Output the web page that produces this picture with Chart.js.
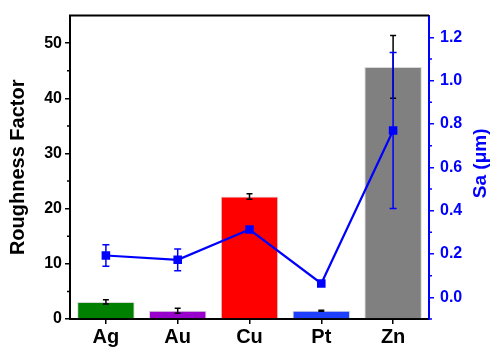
<!DOCTYPE html>
<html>
<head>
<meta charset="utf-8">
<script src="https://cdn.jsdelivr.net/npm/chart.js@4/dist/chart.umd.min.js"></script>
<style>
html,body{margin:0;padding:0;background:#fff;}
#wrap{width:491px;height:347px;}
</style>
</head>
<body>
<div id="wrap"><canvas id="c" width="491" height="347"></canvas></div>
<script>
const categories = ['Ag', 'Au', 'Cu', 'Pt', 'Zn'];
const roughness = [3.1, 1.5, 22.2, 1.5, 45.7];
const roughnessErr = [0.4, 0.45, 0.5, 0.1, 5.7];
const sa = [0.193, 0.173, 0.313, 0.064, 0.77];
const saErr = [0.05, 0.05, 0, 0, 0.36];
const barColors = ['#008000', '#9900cc', '#ff0000', '#1f3fff', '#808080'];
const leftTicks = [0, 10, 20, 30, 40, 50];
const leftMinor = [5, 15, 25, 35, 45];
const rightTicks = [0.0, 0.2, 0.4, 0.6, 0.8, 1.0, 1.2];
const rightMinor = [-0.1, 0.1, 0.3, 0.5, 0.7, 0.9, 1.1];
const rightTitle = 'Sa (\u03bcm)';

const FONT = "'Liberation Sans', Arial, sans-serif";

const extras = {
  id: 'extras',
  afterDatasetDraw(chart, args) {
    const ctx = chart.ctx;
    const meta = args.meta;
    const ds = chart.data.datasets[args.index];
    const errs = ds.errs;
    if (!errs) return;
    const scale = chart.scales[meta.yAxisID];
    ctx.save();
    ctx.strokeStyle = ds.errColor;
    ctx.lineWidth = 1.5;
    meta.data.forEach((el, i) => {
      const e = errs[i];
      if (!e) return;
      const v = ds.data[i];
      const x = el.x;
      const yt = scale.getPixelForValue(v + e);
      const yb = scale.getPixelForValue(v - e);
      const cw = ds.capW;
      ctx.beginPath();
      ctx.moveTo(x, yt); ctx.lineTo(x, yb);
      ctx.moveTo(x - cw, yt); ctx.lineTo(x + cw, yt);
      ctx.moveTo(x - cw, yb); ctx.lineTo(x + cw, yb);
      ctx.stroke();
    });
    ctx.restore();
  },
  afterDraw(chart) {
    const ctx = chart.ctx;
    const a = chart.chartArea;
    ctx.save();
    ctx.strokeStyle = '#000';
    ctx.lineWidth = 2;
    ctx.beginPath();
    ctx.moveTo(a.left - 1, a.top);
    ctx.lineTo(a.right, a.top);
    ctx.stroke();
    const y = chart.scales.y, y2 = chart.scales.y2;
    ctx.lineWidth = 1.5;
    ctx.strokeStyle = '#000';
    ctx.beginPath();
    leftMinor.forEach(v => {
      const p = y.getPixelForValue(v);
      ctx.moveTo(a.left - 3, p); ctx.lineTo(a.left, p);
    });
    ctx.stroke();
    ctx.strokeStyle = '#0000ff';
    ctx.beginPath();
    rightMinor.forEach(v => {
      const p = y2.getPixelForValue(v);
      ctx.moveTo(a.right, p); ctx.lineTo(a.right + 3, p);
    });
    ctx.stroke();
    // right axis title, reading bottom-to-top
    ctx.translate(481, (a.top + a.bottom) / 2 - 4);
    ctx.rotate(-Math.PI / 2);
    ctx.fillStyle = '#0000ff';
    ctx.font = "bold 19px " + FONT;
    ctx.textAlign = 'center';
    ctx.textBaseline = 'middle';
    ctx.fillText(rightTitle, 0, 0);
    ctx.restore();
  }
};

new Chart(document.getElementById('c'), {
  type: 'bar',
  data: {
    labels: categories,
    datasets: [
      {
        type: 'line',
        label: 'Sa',
        data: sa,
        errs: saErr,
        errColor: '#0000ff',
        capW: 3.5,
        yAxisID: 'y2',
        borderColor: '#0000ff',
        backgroundColor: '#0000ff',
        borderWidth: 2.2,
        pointStyle: 'rect',
        pointRadius: 4.5,
        pointHoverRadius: 4.5,
        tension: 0,
        order: 0
      },
      {
        type: 'bar',
        label: 'Roughness',
        data: roughness,
        errs: roughnessErr,
        errColor: '#000',
        capW: 3,
        yAxisID: 'y',
        backgroundColor: barColors,
        borderColor: '#d8d8d8',
        borderWidth: 1,
        categoryPercentage: 0.8,
        barPercentage: 1.0,
        order: 1
      }
    ]
  },
  options: {
    responsive: false,
    animation: false,
    events: [],
    layout: { padding: { top: 14, left: 0, right: 0, bottom: 0 } },
    plugins: { legend: { display: false }, tooltip: { enabled: false } },
    scales: {
      x: {
        type: 'category',
        offset: true,
        afterFit: s => { s.height = 28; },
        grid: { display: true, drawOnChartArea: false, drawTicks: true, tickLength: 5, offset: false, color: '#000', tickColor: '#000', lineWidth: 1.5 },
        border: { display: true, color: '#000', width: 2 },
        ticks: { color: '#000', padding: 1, font: { family: FONT, size: 20, weight: 'bold' }, maxRotation: 0 }
      },
      y: {
        position: 'left',
        min: 0, max: 55,
        afterBuildTicks: s => { s.ticks = leftTicks.map(v => ({ value: v })); },
        afterFit: s => { s.width = 70; },
        grid: { display: true, drawOnChartArea: false, drawTicks: true, tickLength: 5, color: '#000', tickColor: '#000', lineWidth: 1.5 },
        border: { display: true, color: '#000', width: 2 },
        ticks: { color: '#000', padding: 3, font: { family: FONT, size: 16, weight: 'bold' }, callback: v => String(v) },
        title: { display: true, text: 'Roughness Factor', color: '#000', padding: { top: 6, bottom: 0 }, font: { family: FONT, size: 20, weight: 'bold', lineHeight: 1.2 } }
      },
      y2: {
        position: 'right',
        min: -0.1, max: 1.3,
        afterBuildTicks: s => { s.ticks = rightTicks.map(v => ({ value: v })); },
        afterFit: s => { s.width = 62; },
        grid: { display: true, drawOnChartArea: false, drawTicks: true, tickLength: 5, color: '#0000ff', tickColor: '#0000ff', lineWidth: 1.5 },
        border: { display: true, color: '#0000ff', width: 2 },
        ticks: { color: '#0000ff', padding: 6, font: { family: FONT, size: 16, weight: 'bold' }, callback: v => Number(v).toFixed(1) },
        title: { display: false }
      }
    }
  },
  plugins: [extras]
});
</script>
</body>
</html>
